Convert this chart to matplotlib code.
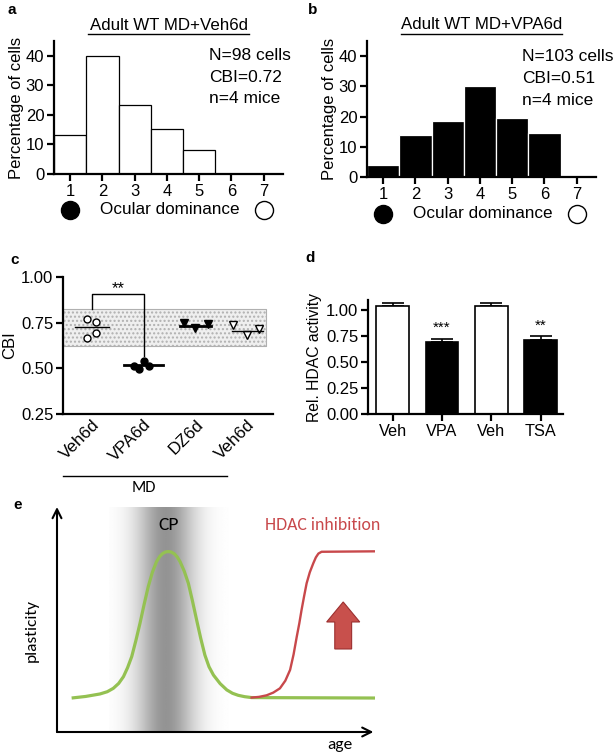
import numpy as np
import matplotlib
matplotlib.use("Agg")
import matplotlib.pyplot as plt

plt.rcParams['font.family'] = ['Liberation Sans', 'DejaVu Sans']
plt.rcParams['hatch.color'] = '#b5b5b5'
E_FONT = ['Carlito', 'Lato', 'DejaVu Sans']

# panel a / b: ocular dominance histograms
od_classes = [1, 2, 3, 4, 5, 6, 7]
veh_pct = [13.3, 40.0, 23.5, 15.3, 8.2, 0, 0]
vpa_pct = [4.0, 13.8, 18.6, 30.2, 19.5, 14.6, 0]
veh_info = ["N=98 cells", "CBI=0.72", "n=4 mice"]
vpa_info = ["N=103 cells", "CBI=0.51", "n=4 mice"]

# panel c: CBI per mouse
c_groups = ["Veh6d", "VPA6d", "DZ6d", "Veh6d"]
c_veh = [0.770, 0.755, 0.668, 0.693]
c_vpa = [0.514, 0.494, 0.542, 0.514]
c_dz = [0.748, 0.720, 0.740]
c_veh2 = [0.737, 0.680, 0.715]
c_means = [0.725, 0.516, 0.730, 0.705]
band_lo, band_hi = 0.622, 0.825

# panel d: HDAC activity
d_labels = ["Veh", "VPA", "Veh", "TSA"]
d_vals = [1.04, 0.69, 1.04, 0.71]
d_err = [0.03, 0.035, 0.03, 0.04]
d_stars = ["", "***", "", "**"]

# panel e: schematic curves
green_x = [4.6, 9.0, 13.5, 15.8, 17.7, 19.4, 20.9, 22.2, 23.5, 24.8, 26.1, 27.4, 28.7,
           30.0, 31.3, 32.3, 33.2, 34.1, 35.0, 35.9, 36.9, 37.8, 38.7, 40.0, 41.3, 42.6,
           43.9, 45.2, 46.5, 47.8, 49.2, 51.3, 53.4, 55.2, 57.0, 59.0, 61.2, 100]
green_y = [15.1, 15.8, 16.9, 17.9, 19.4, 21.6, 24.6, 28.6, 33.5, 40.6, 48.3, 56.7, 64.6,
           71.0, 75.7, 78.0, 79.3, 80.0, 80.2, 80.0, 79.2, 77.8, 75.7, 71.5, 66.1, 58.2,
           49.8, 41.6, 34.2, 29.0, 25.3, 21.5, 18.7, 17.2, 16.3, 15.7, 15.3, 15.1]
red_x = [61.2, 63.5, 65.9, 68.0, 70.1, 71.8, 73.3, 74.4, 75.4, 76.2, 76.9, 77.7, 78.5,
         79.5, 80.6, 81.4, 82.2, 83.2, 100]
red_y = [15.3, 15.6, 16.3, 17.5, 19.4, 22.8, 27.6, 34.5, 42.4, 48.3, 54.2, 60.3, 66.1,
         71.0, 75.0, 77.6, 79.3, 80.1, 80.3]

W, H = 615, 754
fig = plt.figure(figsize=(W / 100, H / 100), dpi=100)


def box(l, t, r, b):
    return [l / W, 1 - b / H, (r - l) / W, (b - t) / H]


def style(ax, size=12):
    for s in ['top', 'right']:
        ax.spines[s].set_visible(False)
    for s in ['left', 'bottom']:
        ax.spines[s].set_linewidth(1.6)
    ax.tick_params(width=1.6, length=5, labelsize=size, pad=2)


def hist_panel(pos, vals, color, edge, title, info):
    ax = fig.add_axes(pos)
    ax.bar(od_classes, vals, width=1.0, color=color, edgecolor=edge, linewidth=0.9)
    ax.set_xlim(0.5, 7.6)
    ax.set_ylim(0, 45)
    ax.set_yticks([0, 10, 20, 30, 40])
    ax.set_xticks(od_classes)
    style(ax)
    ax.set_ylabel("Percentage of cells", fontsize=12, labelpad=1)
    ax.text(0.5, 1.12, title, transform=ax.transAxes, ha='center', va='center', fontsize=12.2)
    ax.plot([0.15, 0.85], [1.05, 1.05], transform=ax.transAxes, color='black', lw=1, clip_on=False)
    for i, line in enumerate(info):
        ax.text(5.3, 40 - i * 7.3, line, ha='left', va='center', fontsize=12.5)
    tr = ax.get_xaxis_transform()
    ax.plot([1], [-0.27], 'o', ms=13, color='black', transform=tr, clip_on=False)
    ax.plot([7], [-0.27], 'o', ms=13, mfc='white', mec='black', mew=1, transform=tr, clip_on=False)
    ax.text(4.1, -0.27, "Ocular dominance", transform=tr, ha='center', va='center', fontsize=12.3)
    return ax


hist_panel(box(54, 41, 283, 174), veh_pct, 'white', 'black', "Adult WT MD+Veh6d", veh_info)
hist_panel(box(367, 41, 596, 177), vpa_pct, 'black', 'white', "Adult WT MD+VPA6d", vpa_info)

# panel c
axc = fig.add_axes(box(63, 277, 273, 414))
axc.fill_between([-0.56, 3.36], band_lo, band_hi, facecolor='#efefef', edgecolor='#b0b0b0',
                 hatch='....', linewidth=0.8, zorder=0)
axc.plot([-0.09, 0.07, -0.09, 0.07], c_veh, 'o', ms=5, mfc='white', mec='black', mew=1)
axc.plot([0.81, 0.91, 1.0, 1.1], c_vpa, 'o', ms=5, color='black')
axc.plot([1.77, 2.0, 2.25], c_dz, 'v', ms=6, color='black')
axc.plot([2.73, 3.0, 3.23], c_veh2, 'v', ms=6, mfc='white', mec='black', mew=1)
mean_w = [0.32, 0.38, 0.3, 0.3]
mean_lw = [1.0, 2.0, 2.0, 1.0]
for i, m in enumerate(c_means):
    axc.plot([i - mean_w[i], i + mean_w[i]], [m, m], color='black', lw=mean_lw[i])
axc.plot([0, 0, 1, 1], [band_hi, 0.905, 0.905, 0.565], color='black', lw=1)
axc.text(0.5, 0.935, "**", ha='center', va='center', fontsize=12)
axc.set_xlim(-0.56, 3.5)
axc.set_ylim(0.25, 1.0)
axc.set_yticks([0.25, 0.5, 0.75, 1.0])
axc.set_yticklabels(["0.25", "0.50", "0.75", "1.00"])
axc.set_xticks(range(4))
style(axc)
axc.tick_params(axis='x', length=0)
axc.set_xticklabels(c_groups, rotation=45, ha='right', rotation_mode='anchor', fontsize=12.3)
axc.set_ylabel("CBI", fontsize=12, labelpad=3)
fig.add_artist(plt.Line2D([63 / W, 227 / W], [1 - 476 / H, 1 - 476 / H], color='black', lw=1))
fig.text(144 / W, 1 - 488 / H, "MD", ha='center', va='center', fontsize=12, family=E_FONT)

# panel d
axd = fig.add_axes(box(368, 300, 563, 414))
xd = np.arange(len(d_vals))
d_colors = ['white', 'black', 'white', 'black']
axd.bar(xd, d_vals, width=0.66, color=d_colors, edgecolor='black', linewidth=1.2, zorder=2)
axd.errorbar(xd, d_vals, yerr=[[0] * 4, d_err], fmt='none', ecolor='black', elinewidth=1.2,
             capsize=8, capthick=1.2, zorder=1)
for i, s in enumerate(d_stars):
    if s:
        axd.text(i, d_vals[i] + d_err[i] + 0.035, s, ha='center', va='bottom', fontsize=11)
axd.set_xlim(-0.5, 3.45)
axd.set_ylim(0, 1.1)
axd.set_yticks([0, 0.25, 0.5, 0.75, 1.0])
axd.set_yticklabels(["0.00", "0.25", "0.50", "0.75", "1.00"])
axd.set_xticks(xd)
axd.set_xticklabels(d_labels)
style(axd)
axd.tick_params(axis='x', labelsize=11.7)
axd.set_ylabel("Rel. HDAC activity", fontsize=11.3, labelpad=3)

# panel e
axe = fig.add_axes(box(57, 507, 375, 732))
axe.set_xlim(0, 100)
axe.set_ylim(0, 100)
axe.axis('off')
gx = np.linspace(0, 1, 300)
shade = 1 - 0.42 * np.exp(-((gx - 0.47) / 0.24) ** 2)
axe.imshow(shade[None, :], extent=[16.5, 54.5, 0, 100], aspect='auto', cmap='gray',
           vmin=0, vmax=1, zorder=0)
axe.plot(green_x, green_y, color='#94c152', lw=2.3, solid_capstyle='butt', zorder=2)
axe.plot(red_x, red_y, color='#c8484b', lw=1.7, zorder=3)
for tip in [(99.5, 0), (0, 100)]:
    axe.annotate("", xy=tip, xytext=(0, 0),
                 arrowprops=dict(arrowstyle='->', lw=1.5, color='black', mutation_scale=16,
                                 shrinkA=0, shrinkB=0), annotation_clip=False)
axe.arrow(90, 36.9, 0, 12.0, width=5.3, head_width=10.4, head_length=8.9,
          length_includes_head=False, facecolor='#c8504c', edgecolor='#9c2f2f', lw=0.8)
axe.text(35, 92, "CP", ha='center', va='center', fontsize=14, family=E_FONT)
axe.text(65.4, 92, "HDAC inhibition", ha='left', va='center', fontsize=12.8, color='#c8484b',
         family=E_FONT)
axe.text(-8, 45, "plasticity", ha='center', va='center', rotation=90, fontsize=12.5,
         family=E_FONT)
axe.text(89, -6, "age", ha='center', va='center', fontsize=12.5, family=E_FONT, clip_on=False)

# panel letters
for lab, x, y in [("a", 8, 10), ("b", 308, 10), ("c", 10, 260), ("d", 305, 258), ("e", 13, 505)]:
    fig.text(x / W, 1 - y / H, lab, fontsize=11, fontweight='bold', ha='left', va='center')

fig.savefig("out.png", dpi=100)
